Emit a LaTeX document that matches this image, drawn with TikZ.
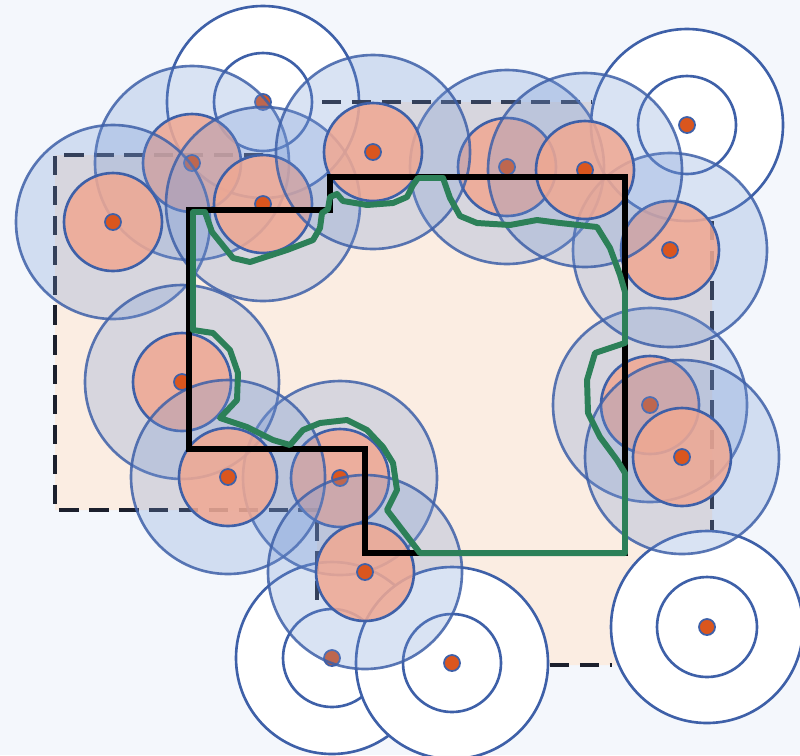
\documentclass[tikz,border=0pt]{standalone}
\usepackage{tikz}

\begin{document}
\begin{tikzpicture}[x=0.02cm, y=-0.02cm,
  outer/.style={fill={rgb,255:red,118;green,152;blue,214}, fill opacity=0.27, draw={rgb,255:red,62;green,96;blue,168}, draw opacity=0.85, line width=1.5pt},
  inner/.style={fill={rgb,255:red,240;green,168;blue,146}, fill opacity=0.85, draw={rgb,255:red,62;green,96;blue,168}, line width=1.5pt},
  idle/.style={fill=white, draw={rgb,255:red,62;green,96;blue,168}, line width=1.5pt},
  ring/.style={draw={rgb,255:red,62;green,96;blue,168}, line width=1.5pt},
  dot/.style={fill={rgb,255:red,218;green,86;blue,30}, draw={rgb,255:red,62;green,96;blue,168}, line width=1pt},
  border/.style={draw={rgb,255:red,28;green,32;blue,45}, line width=2.8pt, dash pattern=on 11pt off 6pt}]
\useasboundingbox (0,0) rectangle (800,755);
\fill[fill={rgb,255:red,244;green,247;blue,252}] (0,0) rectangle (800,755);
\fill[fill={rgb,255:red,251;green,237;blue,226}] (55,155) -- (320,155) -- (320,102) -- (712,102) -- (712,665) -- (317,665) -- (317,510) -- (55,510) -- cycle;

\draw[idle] (263,102) circle (96); \draw[ring] (263,102) circle (49); \draw[dot] (263,102) circle (8);
\draw[idle] (687,125) circle (96); \draw[ring] (687,125) circle (49); \draw[dot] (687,125) circle (8);
\draw[idle] (332,658) circle (96); \draw[ring] (332,658) circle (49); \draw[dot] (332,658) circle (8);
\draw[idle] (452,663) circle (96); \draw[ring] (452,663) circle (49); \draw[dot] (452,663) circle (8);
\draw[idle] (707,627) circle (96); \draw[ring] (707,627) circle (50); \draw[dot] (707,627) circle (8);

\draw[border] (263,155) -- (55,155) -- (55,510) -- (317,510) -- (317,610);
\draw[border] (322,102) -- (592,102);
\draw[border] (712,221) -- (712,530);
\draw[border] (550,665) -- (612,665);

\draw[outer] (192,163) circle (97); \draw[inner] (192,163) circle (49); \draw[dot] (192,163) circle (8);
\draw[outer] (507,167) circle (97); \draw[inner] (507,167) circle (49); \draw[dot] (507,167) circle (8);
\draw[outer] (650,405) circle (97); \draw[inner] (650,405) circle (49); \draw[dot] (650,405) circle (8);
\draw[outer] (340,478) circle (97); \draw[inner] (340,478) circle (49); \draw[dot] (340,478) circle (8);
\draw[outer] (670,250) circle (97); \draw[inner] (670,250) circle (49); \draw[dot] (670,250) circle (8);
\draw[outer] (113,222) circle (97); \draw[inner] (113,222) circle (49); \draw[dot] (113,222) circle (8);
\draw[outer] (263,204) circle (97); \draw[inner] (263,204) circle (49); \draw[dot] (263,204) circle (8);
\draw[outer] (373,152) circle (97); \draw[inner] (373,152) circle (49); \draw[dot] (373,152) circle (8);
\draw[outer] (585,170) circle (97); \draw[inner] (585,170) circle (49); \draw[dot] (585,170) circle (8);
\draw[outer] (182,382) circle (97); \draw[inner] (182,382) circle (49); \draw[dot] (182,382) circle (8);
\draw[outer] (682,457) circle (97); \draw[inner] (682,457) circle (49); \draw[dot] (682,457) circle (8);
\draw[outer] (228,477) circle (97); \draw[inner] (228,477) circle (49); \draw[dot] (228,477) circle (8);
\draw[outer] (365,572) circle (97); \draw[inner] (365,572) circle (49); \draw[dot] (365,572) circle (8);

\draw[line width=3.4pt, black] (189,210) -- (330,210) -- (330,177) -- (625,177) -- (625,553) -- (365,553) -- (365,449) -- (189,449) -- cycle;
\draw[line width=3.4pt, line join=round, draw={rgb,255:red,44;green,128;blue,88}] (193,212) -- (205,212) -- (212,232) -- (233,258) -- (250,262) -- (287,250) -- (313,240) -- (320,228) -- (322,213) -- (328,209) -- (330,197) -- (337,194) -- (343,201) -- (367,205) -- (393,203) -- (407,197) -- (413,185) -- (418,178) -- (443,178) -- (450,198) -- (460,216) -- (477,223) -- (510,225) -- (537,220) -- (560,223) -- (597,227) -- (610,248) -- (620,275) -- (625,292) -- (625,343) -- (595,353) -- (587,380) -- (588,413) -- (600,437) -- (617,460) -- (625,473) -- (625,553) -- (420,553) -- (397,523) -- (387,510) -- (397,490) -- (393,463) -- (383,447) -- (367,430) -- (347,420) -- (320,423) -- (303,430) -- (290,445) -- (273,440) -- (247,427) -- (220,418) -- (237,400) -- (238,373) -- (230,350) -- (213,333) -- (193,330) -- cycle;

\end{tikzpicture}
\end{document}
